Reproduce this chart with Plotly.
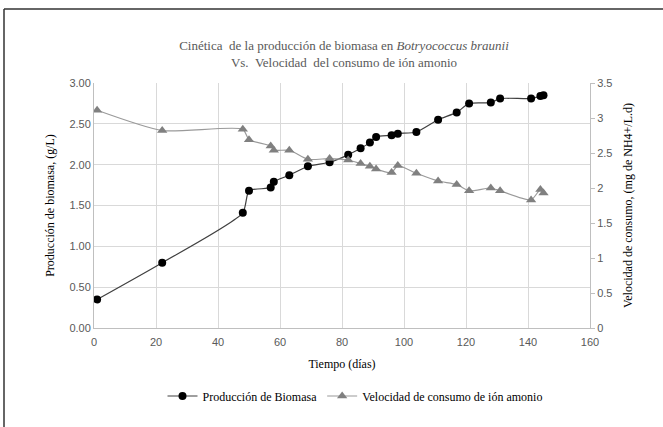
import plotly.graph_objects as go

# Data
dias_biomasa = [1, 22, 48, 50, 57, 58, 63, 69, 76, 82, 86, 89, 91, 96, 98, 104, 111, 117, 121, 128, 131, 141, 144, 145]
biomasa = [0.35, 0.80, 1.41, 1.68, 1.72, 1.79, 1.87, 1.98, 2.03, 2.12, 2.20, 2.27, 2.34, 2.36, 2.38, 2.40, 2.55, 2.64, 2.75, 2.76, 2.81, 2.81, 2.84, 2.85]
dias_amonio = [1, 22, 48, 50, 57, 58, 63, 69, 76, 82, 86, 89, 91, 96, 98, 104, 111, 117, 121, 128, 131, 141, 144, 145]
velocidad = [3.11, 2.82, 2.84, 2.69, 2.60, 2.54, 2.54, 2.41, 2.42, 2.40, 2.35, 2.31, 2.27, 2.22, 2.32, 2.21, 2.10, 2.05, 1.96, 2.00, 1.96, 1.83, 1.98, 1.93]

W, H = 663, 427
L, R, T, B = 94, 73, 83, 99
pw, ph = W - L - R, H - T - B

def px(xp):
    return (xp - L) / pw

def py(yp):
    return (H - B - yp) / ph

serif = "Liberation Serif, Times New Roman, serif"
sans = "Liberation Sans Narrow, Arial Narrow, Liberation Sans, sans-serif"

fig = go.Figure()
fig.add_trace(go.Scatter(
    x=dias_biomasa, y=biomasa, name="Producción de Biomasa",
    mode="lines+markers",
    line=dict(color="#404040", width=1.2, shape="spline", smoothing=0.6),
    marker=dict(symbol="circle", size=8, color="black"),
    yaxis="y"))
fig.add_trace(go.Scatter(
    x=dias_amonio, y=velocidad, name="Velocidad de consumo de ión amonio",
    mode="lines+markers",
    line=dict(color="#9a9a9a", width=1.2, shape="spline", smoothing=0.6),
    marker=dict(symbol="triangle-up", size=9, color="#808080"),
    yaxis="y2"))

fig.update_layout(
    width=W, height=H,
    margin=dict(l=L, r=R, t=T, b=B),
    paper_bgcolor="white", plot_bgcolor="white",
    title=dict(
        text="Cinética  de la producción de biomasa en <i>Botryococcus braunii</i><br>Vs.  Velocidad  del consumo de ión amonio",
        x=px(344), xanchor="center", xref="paper",
        y=1 - 50 / H, yanchor="middle",
        font=dict(family=serif, size=13, color="#595959")),
    xaxis=dict(
        range=[0, 160], dtick=20, tick0=0,
        showgrid=True, gridcolor="#d9d9d9", gridwidth=1,
        showline=True, linecolor="#bfbfbf", linewidth=1,
        zeroline=False, ticks="", ticklabelstandoff=4,
        tickfont=dict(family=sans, size=11, color="#595959"),
        title=dict(text="Tiempo (días)", standoff=12,
                   font=dict(family=serif, size=12, color="black"))),
    yaxis=dict(
        range=[0, 3.0], dtick=0.5, tickformat=".2f",
        showgrid=True, gridcolor="#d9d9d9", gridwidth=1,
        showline=True, linecolor="#bfbfbf", linewidth=1,
        zeroline=False, ticks="",
        tickfont=dict(family=sans, size=11, color="#595959"),
        title=dict(text="Producción de biomasa, (g/L)", standoff=12,
                   font=dict(family=serif, size=12, color="black"))),
    yaxis2=dict(
        range=[0, 3.5], dtick=0.5, overlaying="y", side="right",
        showgrid=False, showline=True, linecolor="#bfbfbf", linewidth=1,
        zeroline=False, ticks="outside", ticklen=4, tickcolor="#bfbfbf",
        tickfont=dict(family=sans, size=11, color="#595959"),
        title=dict(text="Velocidad de consumo, (mg de NH4+/L.d)", standoff=12,
                   font=dict(family=serif, size=12, color="black"))),
    legend=dict(
        orientation="h", x=px(355), xanchor="center", y=py(396), yanchor="middle",
        font=dict(family=serif, size=12, color="black"),
        itemwidth=30, tracegroupgap=0, bgcolor="rgba(0,0,0,0)"),
    showlegend=True,
)

# Frame lines (left and top border of the chart box)
fig.add_shape(type="line", xref="paper", yref="paper",
              x0=px(4), x1=px(4), y0=py(9), y1=py(H + 2),
              line=dict(color="#333333", width=1.5))
fig.add_shape(type="line", xref="paper", yref="paper",
              x0=px(4), x1=px(W + 2), y0=py(9), y1=py(9),
              line=dict(color="#333333", width=1.5))

fig.write_html("out.html", config={"displayModeBar": False},
               post_script="document.body.style.margin='0px';document.body.style.overflow='hidden';")
